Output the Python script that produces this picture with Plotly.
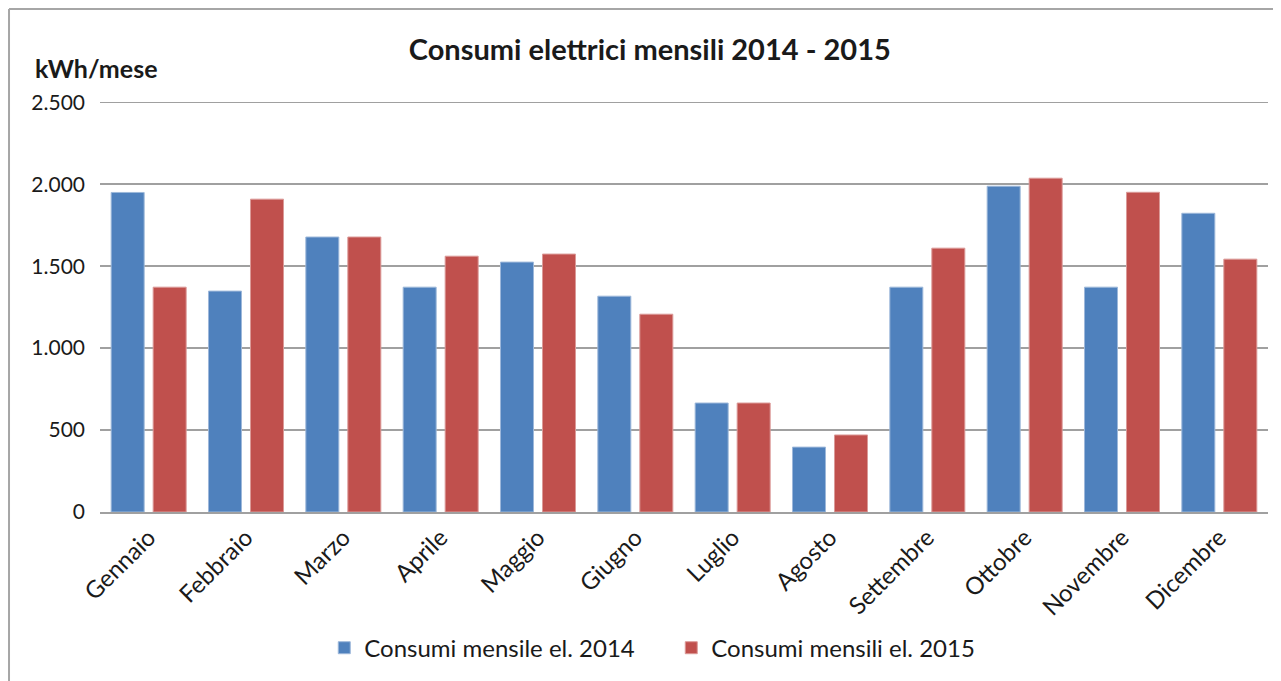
import plotly.graph_objects as go

# monthly data
mesi = ["Gennaio", "Febbraio", "Marzo", "Aprile", "Maggio", "Giugno",
        "Luglio", "Agosto", "Settembre", "Ottobre", "Novembre", "Dicembre"]
consumi_2014 = [1950, 1348, 1678, 1372, 1525, 1317, 665, 396, 1372, 1988, 1372, 1823]
consumi_2015 = [1372, 1909, 1678, 1561, 1574, 1207, 665, 470, 1610, 2037, 1951, 1543]
y_ticks = [0, 500, 1000, 1500, 2000, 2500]

fnt = "Lato, 'Open Sans', sans-serif"
blu = "#4F81BD"
rosso = "#C0504D"
griglia = "#A0A0A0"

fig = go.Figure()
fig.add_trace(go.Bar(x=mesi, y=consumi_2014, name="Consumi mensile el. 2014",
                     marker=dict(color=blu, line=dict(color="#9DB8DA", width=1))))
fig.add_trace(go.Bar(x=mesi, y=consumi_2015, name="Consumi mensili el. 2015",
                     marker=dict(color=rosso, line=dict(color="#DB9A98", width=1))))

# the page body adds an 8px offset, margins compensate for it
fig.update_layout(
    width=1281, height=681,
    margin=dict(l=92, r=21, t=94, b=177),
    paper_bgcolor="white", plot_bgcolor="white",
    barmode="group", bargap=0.137, bargroupgap=0.214,
    separators=",.",
    font=dict(family=fnt, size=20, color="#1a1a1a"),
    title=dict(text="<b>Consumi elettrici mensili 2014 - 2015</b>",
               x=0.501, xanchor="center", y=0.938, yanchor="middle",
               font=dict(family=fnt, size=29, color="#1a1a1a")),
    legend=dict(orientation="h", x=0.192, xanchor="left", y=-0.332, yanchor="middle",
                font=dict(family=fnt, size=24), itemwidth=30, traceorder="normal",
                entrywidth=302, entrywidthmode="pixels"),
    showlegend=True,
)

fig.update_xaxes(tickangle=-45, showgrid=False, showline=True, linecolor=griglia,
                 linewidth=2, ticks="", tickfont=dict(family=fnt, size=24))
fig.update_yaxes(range=[0, 2502], tickvals=y_ticks,
                 tickformat=",d", showgrid=True,
                 gridcolor=griglia, gridwidth=1.5, zeroline=False, showline=False,
                 ticks="", ticklabelstandoff=14, tickfont=dict(family=fnt, size=21))

# top gridline sits on the plot edge, draw it explicitly
fig.add_shape(type="line", xref="paper", yref="y", x0=0, x1=1,
              y0=y_ticks[-1], y1=y_ticks[-1], line=dict(color=griglia, width=1.5),
              layer="below")

fig.add_annotation(text="<b>kWh/mese</b>", xref="paper", yref="paper",
                   x=-0.0574, y=1.083, xanchor="left", yanchor="middle",
                   showarrow=False, font=dict(family=fnt, size=25, color="#1a1a1a"))

# outer frame (left and top edges are visible)
fig.add_shape(type="line", xref="paper", yref="paper",
              x0=-0.0779, x1=-0.0779, y0=-0.45, y1=1.2268,
              line=dict(color="#A6A6A6", width=2))
fig.add_shape(type="line", xref="paper", yref="paper",
              x0=-0.0779, x1=1.02, y0=1.2268, y1=1.2268,
              line=dict(color="#A6A6A6", width=2))

fig.write_html("out.html")
